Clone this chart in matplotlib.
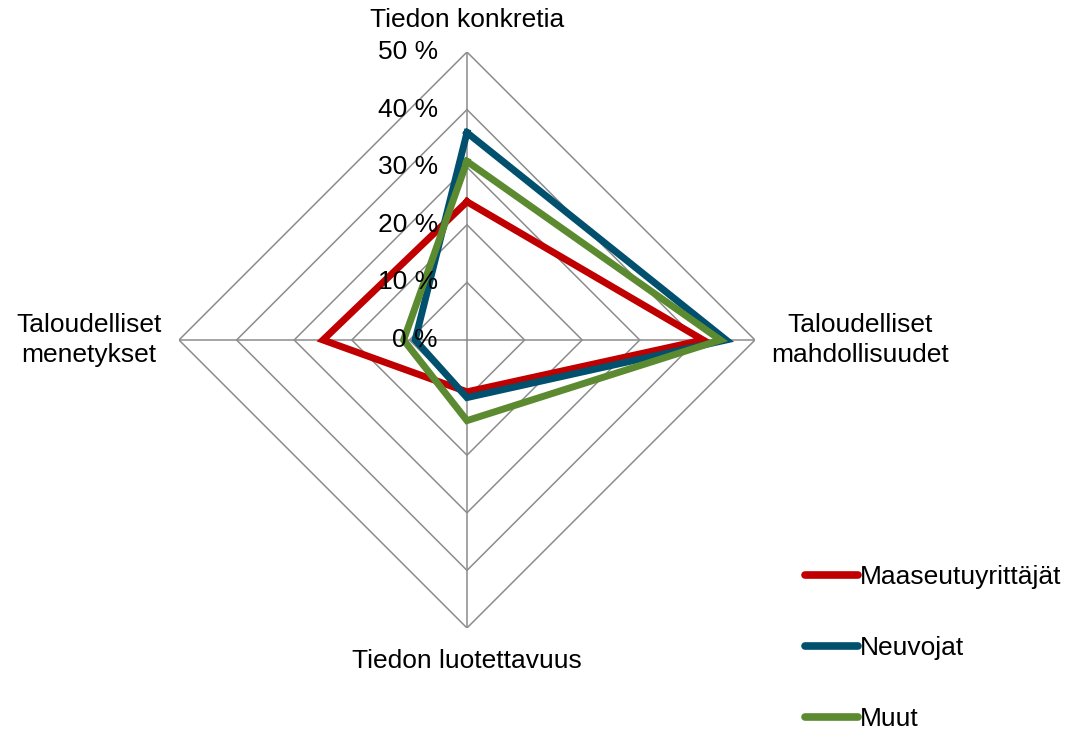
import numpy as np
import matplotlib
matplotlib.use("Agg")
from matplotlib import pyplot as plt

plt.rcParams['font.family'] = ['Liberation Sans', 'DejaVu Sans']

categories = ["Tiedon konkretia", "Taloudelliset\nmahdollisuudet",
              "Tiedon luotettavuus", "Taloudelliset\nmenetykset"]
series_names = ["Maaseutuyrittäjät", "Neuvojat", "Muut"]
maaseutuyrittajat = [24, 41, 9, 25]
neuvojat = [36, 45, 10, 9]
muut = [31, 44, 14, 11]
r_ticks = [0, 10, 20, 30, 40, 50]
tick_labels = ["0 %", "10 %", "20 %", "30 %", "40 %", "50 %"]

colors = ["#C00000", "#00506E", "#5B8A30"]
values = [maaseutuyrittajat, neuvojat, muut]

fig = plt.figure(figsize=(10.75, 7.31), dpi=100)
ax = fig.add_axes([0.1665, 0.1409, 0.5358, 0.788], projection='polar')
ax.set_theta_zero_location('N')
ax.set_theta_direction(-1)
ax.set_ylim(0, 50)

angles = np.linspace(0, 2 * np.pi, len(categories), endpoint=False)
closed = np.append(angles, angles[0])

# ruudukko suorina viivoina (Excelin tyyliin)
ax.grid(False)
ax.spines['polar'].set_visible(False)
ax.set_xticks([])
ax.set_yticks([])
for r in r_ticks[1:]:
    ax.plot(closed, [r] * len(closed), color="#8C8C8C", lw=1.1, zorder=1)
for a in angles:
    ax.plot([a, a], [0, 50], color="#8C8C8C", lw=1.1, zorder=1)

for r, lab in zip(r_ticks, tick_labels):
    ax.annotate(lab, xy=(0, r), xytext=(-21, 0), textcoords='offset points',
                ha='right', va='center', fontsize=19, zorder=5)

for name, vals, c in zip(series_names, values, colors):
    ax.plot(closed, vals + [vals[0]], color=c, lw=5, label=name,
            solid_joinstyle='miter', zorder=3)

# akselien nimet
ax.annotate(categories[0], xy=(0, 50), xytext=(0, 23), textcoords='offset points',
            ha='center', va='center', fontsize=19)
ax.annotate(categories[1], xy=(angles[1], 50), xytext=(76, 0), textcoords='offset points',
            ha='center', va='center', fontsize=19, linespacing=1.3)
ax.annotate(categories[2], xy=(angles[2], 50), xytext=(0, -24), textcoords='offset points',
            ha='center', va='center', fontsize=19)
ax.annotate(categories[3], xy=(angles[3], 50), xytext=(-65, 0), textcoords='offset points',
            ha='center', va='center', fontsize=19, linespacing=1.3)

leg = fig.legend(loc='upper left', bbox_to_anchor=(0.737, 0.245), frameon=False,
                 fontsize=19, handlelength=2.0, handletextpad=0.08,
                 labelspacing=1.78, borderpad=0)
for line in leg.get_lines():
    line.set_linewidth(5.5)
    line.set_solid_capstyle('round')

fig.savefig("out.png", dpi=100)
